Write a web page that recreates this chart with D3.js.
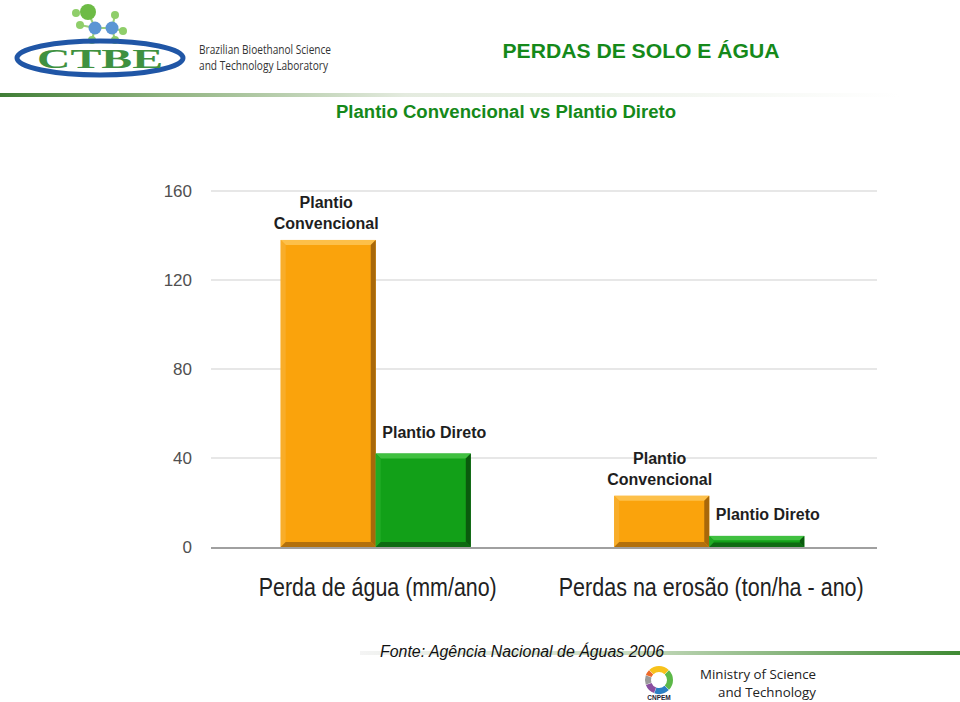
<!DOCTYPE html>
<html><head><meta charset="utf-8">
<script src="https://cdn.jsdelivr.net/npm/d3@7"></script>
<style>
html,body{margin:0;padding:0;background:#fff;}
svg{display:block;}
</style></head>
<body>
<script>
// ---- data ----
const categories = ["Perda de água (mm/ano)", "Perdas na erosão (ton/ha - ano)"];
const seriesNames = ["Plantio Convencional", "Plantio Direto"];
const convencional = [138, 23];
const direto = [42, 5];
const yTicks = [0, 40, 80, 120, 160];
const barLabelLines = [["Plantio", "Convencional"], ["Plantio Direto"]];
const title = "PERDAS DE SOLO E ÁGUA";
const subtitle = "Plantio Convencional vs Plantio Direto";
const source = "Fonte: Agência Nacional de Águas 2006";

const W = 960, H = 702;
const svg = d3.select("body").append("svg").attr("width", W).attr("height", H);
const defs = svg.append("defs");

// gradients for header/footer rules
const gTop = defs.append("linearGradient").attr("id", "gTop").attr("x1", "0").attr("x2", "1");
gTop.append("stop").attr("offset", "0").attr("stop-color", "#3f7d35");
gTop.append("stop").attr("offset", "0.18").attr("stop-color", "#8fb37f");
gTop.append("stop").attr("offset", "0.45").attr("stop-color", "#e4ebdf");
gTop.append("stop").attr("offset", "1").attr("stop-color", "#ffffff");
const gBot = defs.append("linearGradient").attr("id", "gBot").attr("x1", "0").attr("x2", "1");
gBot.append("stop").attr("offset", "0").attr("stop-color", "#f4f4f4");
gBot.append("stop").attr("offset", "0.45").attr("stop-color", "#c9dcc0");
gBot.append("stop").attr("offset", "1").attr("stop-color", "#3f8a33");

svg.append("rect").attr("x", 0).attr("y", 93).attr("width", 900).attr("height", 4).attr("fill", "url(#gTop)");
svg.append("rect").attr("x", 360).attr("y", 651).attr("width", 600).attr("height", 4).attr("fill", "url(#gBot)");

// ---- CTBE logo ----
const logo = svg.append("g");
const bonds = [[88,12,95,28],[80,25,95,28],[95,28,112,28],[112,28,115,15],[112,28,123,31],[95,28,92,40],[112,28,115,40]];
logo.selectAll("line").data(bonds).join("line")
  .attr("x1", d => d[0]).attr("y1", d => d[1]).attr("x2", d => d[2]).attr("y2", d => d[3])
  .attr("stroke", "#9bcf7a").attr("stroke-width", 2);
const atoms = [[88,12,8,"#6dbb45"],[76,13,4,"#8fce6a"],[80,25,4,"#8fce6a"],[115,15,4,"#8fce6a"],[123,31,4,"#8fce6a"],[92,40,4,"#8fce6a"],[115,40,4,"#8fce6a"],[95,28,6.5,"#5b95d4"],[112,28,6.5,"#5b95d4"]];
logo.selectAll("circle").data(atoms).join("circle")
  .attr("cx", d => d[0]).attr("cy", d => d[1]).attr("r", d => d[2]).attr("fill", d => d[3]);
logo.append("ellipse").attr("cx", 100).attr("cy", 58).attr("rx", 83).attr("ry", 17)
  .attr("fill", "none").attr("stroke", "#2056a6").attr("stroke-width", 5);
logo.append("text").attr("x", 100).attr("y", 68).attr("text-anchor", "middle")
  .attr("font-family", "Liberation Serif, serif").attr("font-weight", "bold").attr("font-size", 28)
  .attr("fill", "#3f9140").attr("textLength", 126).attr("lengthAdjust", "spacingAndGlyphs").text("CTBE");
logo.append("text").attr("x", 199).attr("y", 54).attr("font-family", "Open Sans, sans-serif").attr("font-size", 12)
  .attr("fill", "#333").attr("textLength", 132).attr("lengthAdjust", "spacingAndGlyphs").text("Brazilian Bioethanol Science");
logo.append("text").attr("x", 199).attr("y", 70).attr("font-family", "Open Sans, sans-serif").attr("font-size", 12)
  .attr("fill", "#333").attr("textLength", 129).attr("lengthAdjust", "spacingAndGlyphs").text("and Technology Laboratory");

// ---- titles ----
svg.append("text").attr("x", 641).attr("y", 58).attr("text-anchor", "middle")
  .attr("font-family", "Liberation Sans, Arial, sans-serif").attr("font-weight", "bold").attr("font-size", 20)
  .attr("fill", "#15891a").attr("textLength", 277).attr("lengthAdjust", "spacingAndGlyphs").text(title);
svg.append("text").attr("x", 506).attr("y", 118).attr("text-anchor", "middle")
  .attr("font-family", "Liberation Sans, Arial, sans-serif").attr("font-weight", "bold").attr("font-size", 18)
  .attr("fill", "#15891a").attr("textLength", 340).attr("lengthAdjust", "spacingAndGlyphs").text(subtitle);

// ---- chart ----
const x0 = d3.scaleBand().domain(categories).range([209, 876]).paddingInner(0.43).paddingOuter(0.215);
const x1 = d3.scaleBand().domain(seriesNames).range([0, x0.bandwidth()]);
const y = d3.scaleLinear().domain([0, 160]).range([547, 191]);

const grid = svg.append("g");
grid.selectAll("line").data(yTicks.filter(t => t > 0)).join("line")
  .attr("x1", 211).attr("x2", 877).attr("y1", d => y(d)).attr("y2", d => y(d))
  .attr("stroke", "#cfcfcf").attr("stroke-width", 1.2);

const yAxis = d3.axisLeft(y).tickValues(yTicks).tickSize(0).tickPadding(0).tickFormat(d3.format("d"));
const ya = svg.append("g").attr("transform", "translate(192,0)").call(yAxis);
ya.select(".domain").remove();
ya.selectAll("text").attr("font-family", "Liberation Sans, Arial, sans-serif").attr("font-size", 17)
  .attr("fill", "#505050").attr("dy", "0.35em");

const seriesData = [convencional, direto];
const palettes = [
  {face: "#faa30c", top: "#fdc04a", left: "#f8ad2a", right: "#a8680a", bottom: "#b2700c"},
  {face: "#12a018", top: "#40c040", left: "#20ab24", right: "#0a5a0d", bottom: "#0d6a11"}
];
const bars = [];
categories.forEach((c, ci) => {
  seriesNames.forEach((s, si) => {
    bars.push({cat: c, ser: s, si, v: seriesData[si][ci]});
  });
});

const bg = svg.append("g");
bars.forEach(b => {
  const xL = x0(b.cat) + x1(b.ser), w = x1.bandwidth();
  const yT = y(b.v), yB = y(0), h = yB - yT;
  const p = palettes[b.si];
  const e = Math.min(5, h / 2.5);
  const g = bg.append("g");
  g.append("rect").attr("x", xL).attr("y", yT).attr("width", w).attr("height", h).attr("fill", p.face);
  const xR = xL + w;
  const poly = (pts, col) => g.append("polygon").attr("points", pts.map(q => q.join(",")).join(" ")).attr("fill", col);
  poly([[xL, yT], [xR, yT], [xR - e, yT + e], [xL + e, yT + e]], p.top);
  poly([[xL, yT], [xL + e, yT + e], [xL + e, yB - e], [xL, yB]], p.left);
  poly([[xR, yT], [xR, yB], [xR - e, yB - e], [xR - e, yT + e]], p.right);
  poly([[xL, yB], [xL + e, yB - e], [xR - e, yB - e], [xR, yB]], p.bottom);
  // labels
  const lines = barLabelLines[b.si];
  const cx = xL + w / 2 + (b.si === 1 ? 11 : -2);
  const gap = b.si === 1 ? 16 : 11;
  lines.forEach((ln, li) => {
    g.append("text").attr("x", cx).attr("y", yT - gap - (lines.length - 1 - li) * 21)
      .attr("text-anchor", "middle").attr("font-family", "Liberation Sans, Arial, sans-serif")
      .attr("font-weight", "bold").attr("font-size", 16).attr("fill", "#1e1e1e").text(ln);
  });
});

// baseline
svg.append("line").attr("x1", 211).attr("x2", 877).attr("y1", y(0) + 1).attr("y2", y(0) + 1)
  .attr("stroke", "#a0a0a0").attr("stroke-width", 2);

// category labels
const catLen = [238, 305];
svg.append("g").selectAll("text").data(categories).join("text")
  .attr("x", d => x0(d) + x0.bandwidth() / 2 + 2).attr("y", 596).attr("text-anchor", "middle")
  .attr("font-family", "Liberation Sans, Arial, sans-serif").attr("font-size", 25).attr("fill", "#222")
  .attr("textLength", (d, i) => catLen[i]).attr("lengthAdjust", "spacingAndGlyphs").text(d => d);

// source
svg.append("text").attr("x", 380).attr("y", 657).attr("font-family", "Liberation Sans, Arial, sans-serif")
  .attr("font-style", "italic").attr("font-size", 16).attr("fill", "#111")
  .attr("textLength", 284).attr("lengthAdjust", "spacingAndGlyphs").text(source);

// CNPEM logo
const cn = svg.append("g").attr("transform", "translate(659,680)");
const segs = [["#f7c21b", -45, 45], ["#5cb848", 45, 135], ["#2b7fc4", 135, 200], ["#8a4ea0", 200, 250], ["#9a9a9a", 250, 290], ["#ee6a2a", 290, 315]];
const arc = d3.arc().innerRadius(8).outerRadius(14).padAngle(0.02);
cn.selectAll("path").data(segs).join("path")
  .attr("d", d => arc({startAngle: d[1] * Math.PI / 180, endAngle: d[2] * Math.PI / 180})).attr("fill", d => d[0]);
cn.append("text").attr("x", 0).attr("y", 20).attr("text-anchor", "middle").attr("font-family", "Liberation Sans, sans-serif")
  .attr("font-weight", "bold").attr("font-size", 6.5).attr("fill", "#223").text("CNPEM");

svg.append("text").attr("x", 816).attr("y", 679).attr("text-anchor", "end").attr("font-family", "Open Sans, sans-serif")
  .attr("font-size", 13).attr("fill", "#222").attr("textLength", 116).attr("lengthAdjust", "spacingAndGlyphs").text("Ministry of Science");
svg.append("text").attr("x", 816).attr("y", 697).attr("text-anchor", "end").attr("font-family", "Open Sans, sans-serif")
  .attr("font-size", 13).attr("fill", "#222").attr("textLength", 98).attr("lengthAdjust", "spacingAndGlyphs").text("and Technology");
</script>
</body></html>
